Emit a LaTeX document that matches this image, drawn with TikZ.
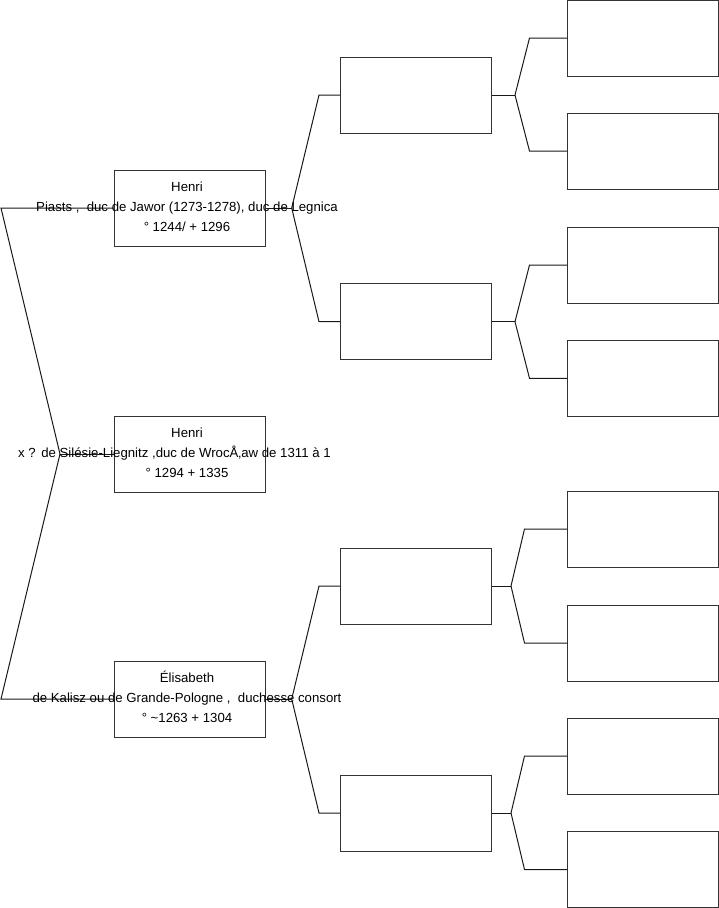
\documentclass[tikz,border=0pt]{standalone}
\usepackage{fontspec}
\setmainfont{Liberation Sans}
\begin{document}
\begin{tikzpicture}[x=1pt,y=-1pt,
  box/.style={draw=black!80, line width=1pt, minimum width=151pt, minimum height=76pt, inner sep=0pt},
  link/.style={draw=black!90, line width=1pt},
  txt/.style={anchor=base, inner sep=0pt, font=\fontsize{13.2}{16}\selectfont}]
\useasboundingbox (0,0) rectangle (719,908);
% left column
\node[box] (p1) at (189.5,208) {};
\node[box] (p2) at (189.5,454) {};
\node[box] (p3) at (189.5,699) {};
% middle column
\node[box,minimum width=150.5pt] (m1) at (416,95) {};
\node[box,minimum width=150.5pt] (m2) at (416,321.7) {};
\node[box,minimum width=150.5pt] (m3) at (416,586) {};
\node[box,minimum width=150.5pt] (m4) at (416,813) {};
% right column
\node[box] (r1) at (643,38) {};
\node[box] (r2) at (643,151) {};
\node[box] (r3) at (643,265) {};
\node[box] (r4) at (643,378.3) {};
\node[box] (r5) at (643,529) {};
\node[box] (r6) at (643,643) {};
\node[box] (r7) at (643,756) {};
\node[box] (r8) at (643,869.5) {};
% branch coordinates
\coordinate (s0) at (60,454);
\coordinate (e1) at (1,208);
\coordinate (e3) at (1,699);
\coordinate (s1) at (291.7,208);
\coordinate (s3) at (291.7,699);
\coordinate (s1a) at (319,95);
\coordinate (s1b) at (319,321.7);
\coordinate (s3a) at (319,586);
\coordinate (s3b) at (319,813);
\coordinate (t1) at (515,95);
\coordinate (t2) at (515,321.7);
\coordinate (t3) at (511,586);
\coordinate (t4) at (511,813);
\coordinate (t1a) at (529.5,38);
\coordinate (t1b) at (529.5,151);
\coordinate (t2a) at (529.5,265);
\coordinate (t2b) at (529.5,378.3);
\coordinate (t3a) at (524.5,529);
\coordinate (t3b) at (524.5,643);
\coordinate (t4a) at (524.5,756);
\coordinate (t4b) at (524.5,869.5);
% connectors
\draw[link] (p2.west) -- (s0);
\draw[link] (s0) -- (e1) -- (p1.west);
\draw[link] (s0) -- (e3) -- (p3.west);
\draw[link] (p1.east) -- (s1);
\draw[link] (s1) -- (s1a) -- (m1.west);
\draw[link] (s1) -- (s1b) -- (m2.west);
\draw[link] (p3.east) -- (s3);
\draw[link] (s3) -- (s3a) -- (m3.west);
\draw[link] (s3) -- (s3b) -- (m4.west);
\draw[link] (m1.east) -- (t1);
\draw[link] (t1) -- (t1a) -- (r1.west);
\draw[link] (t1) -- (t1b) -- (r2.west);
\draw[link] (m2.east) -- (t2);
\draw[link] (t2) -- (t2a) -- (r3.west);
\draw[link] (t2) -- (t2b) -- (r4.west);
\draw[link] (m3.east) -- (t3);
\draw[link] (t3) -- (t3a) -- (r5.west);
\draw[link] (t3) -- (t3b) -- (r6.west);
\draw[link] (m4.east) -- (t4);
\draw[link] (t4) -- (t4a) -- (r7.west);
\draw[link] (t4) -- (t4b) -- (r8.west);
% texts
\node[txt] (p1l1) at (187,191.5) {Henri};
\node[txt] (p1l2) at (187,211.5) {Piasts ,\ \ duc de Jawor (1273-1278), duc de Legnica};
\node[txt] (p1l3) at (187,231.5) {° 1244/ + 1296};
\node[txt] (p2l1) at (187,437.5) {Henri};
\node[txt] (p2l2) at (186,457.5) {de Silésie-Liegnitz ,duc de WrocÅ‚aw de 1311 à 1};
\node[txt] (p2l3) at (187,477.5) {° 1294 + 1335};
\node[txt,anchor=base west] (xq) at (18,457.5) {x ?};
\node[txt] (p3l1) at (187,682.5) {Élisabeth};
\node[txt] (p3l2) at (187,702.5) {de Kalisz ou de Grande-Pologne ,\ \ duchesse consort};
\node[txt] (p3l3) at (187,722.5) {° \textasciitilde1263 + 1304};
\end{tikzpicture}
\end{document}
